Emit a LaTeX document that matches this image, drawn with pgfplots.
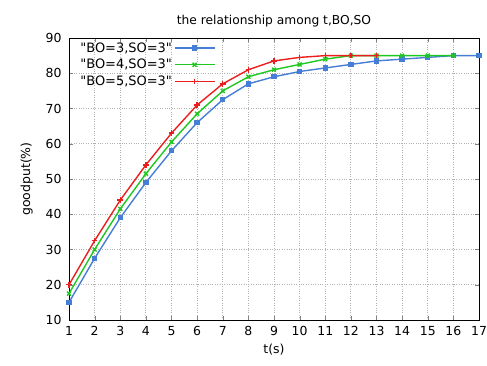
\documentclass[border=0pt]{standalone}
\usepackage{pgfplots}
\pgfplotsset{compat=1.18}
\usepackage{fontspec}
\setmainfont{DejaVu Sans}
\definecolor{cblue}{RGB}{70,125,215}
\definecolor{cgreen}{RGB}{30,200,30}
\definecolor{cred}{RGB}{235,30,30}
\begin{document}
\begin{tikzpicture}[x=1bp,y=1bp]
\useasboundingbox (0,0) rectangle (487,365);
\begin{axis}[
  at={(69bp,45bp)}, anchor=south west,
  scale only axis, width=410bp, height=282bp,
  xmin=1, xmax=17, ymin=10, ymax=90,
  xtick={1,...,17}, ytick={10,20,...,90},
  tick align=inside, major tick length=4bp,
  grid=major, major grid style={gray!60, dotted, line width=0.8pt},
  axis line style={line width=0.9pt},
  /pgf/number format/assume math mode=true,
  tick label style={font=\fontsize{12.5}{14}\selectfont},
  xticklabel style={yshift=-3bp},
  yticklabel style={xshift=-4bp},
  xlabel={t(s)}, ylabel={goodput(\%)},
  label style={font=\fontsize{12.5}{14}\selectfont},
  xlabel style={yshift=-1bp},
  ylabel style={yshift=6bp},
  title={the relationship among t,BO,SO},
  title style={font=\fontsize{12.3}{14}\selectfont, yshift=1bp},
  legend plot pos=right,
  legend style={draw=none, fill=none, font=\fontsize{13}{15}\selectfont, row sep=1.5bp, at={(0.02,0.995)}, anchor=north west, inner sep=1bp},
  legend cell align=right,
  legend image code/.code={\draw[line width=1.4pt, mark repeat=2,mark phase=2] plot coordinates {(0bp,0bp) (20bp,0bp) (40bp,0bp)};},
]
\addplot[cblue, line width=1.4pt, mark=square*, mark size=2bp] coordinates {
(1,15)(2,27.5)(3,39)(4,49)(5,58)(6,66)(7,72.5)(8,77)(9,79)(10,80.5)(11,81.5)(12,82.5)(13,83.5)(14,84)(15,84.5)(16,85)(17,85)};
\addlegendentry{\textquotedbl BO=3,SO=3\textquotedbl}
\addplot[cgreen, line width=1.4pt, mark=x, mark size=2.8bp] coordinates {
(1,17.5)(2,30)(3,41.5)(4,51.5)(5,60.5)(6,68.5)(7,75)(8,79)(9,81)(10,82.5)(11,84)(12,85)(13,85)(14,85)(15,85)(16,85)};
\addlegendentry{\textquotedbl BO=4,SO=3\textquotedbl}
\addplot[cred, line width=1.4pt, mark=+, mark size=2.8bp] coordinates {
(1,20)(2,32.5)(3,44)(4,54)(5,63)(6,71)(7,77)(8,81)(9,83.5)(10,84.5)(11,85)(12,85)(13,85)};
\addlegendentry{\textquotedbl BO=5,SO=3\textquotedbl}
\end{axis}
\end{tikzpicture}
\end{document}
